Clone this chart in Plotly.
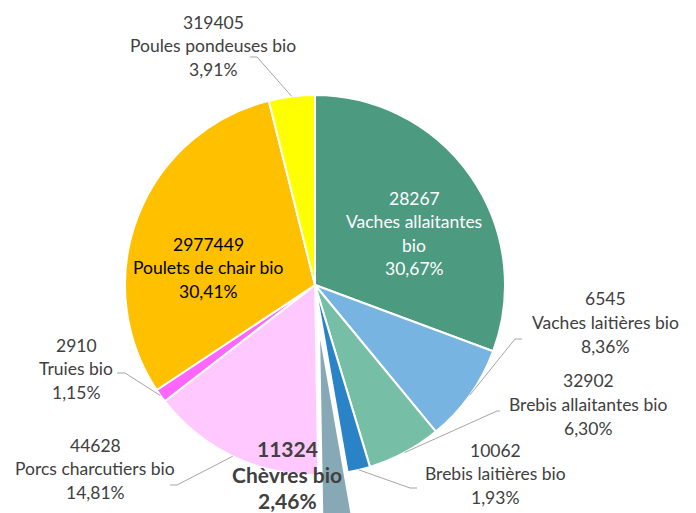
import math
import plotly.graph_objects as go

# ---------------- data ----------------
categories = ["Vaches allaitantes bio", "Vaches laitières bio", "Brebis allaitantes bio",
              "Brebis laitières bio", "Chèvres bio", "Porcs charcutiers bio",
              "Truies bio", "Poulets de chair bio", "Poules pondeuses bio"]
heads = [28267, 6545, 32902, 10062, 11324, 44628, 2910, 2977449, 319405]
shares = [30.67, 8.36, 6.30, 1.93, 2.46, 14.81, 1.15, 30.41, 3.91]

# ---------------- style ----------------
colors = ["#4C9A80", "#77B4E2", "#76BEA6", "#2A83C7", "#87A9B5",
          "#FFC9FF", "#FF66FF", "#FFC000", "#FFFF00"]
pulls = [0, 0, 0, 0, 0.22, 0, 0, 0, 0]

W, H = 696, 513
OFF = 8                             # page body margin
CX, CY, R = 315, 285, 190          # pie centre / radius in page pixels
box = 2 * R * (1 + max(pulls))

def px(x):
    return (x - OFF) / W

def py(y):
    return 1 - (y - OFF) / H

FS = 17.5
# label layout: centre x, first-line y, line spacing, font size, colour, bold, wrap
label_layout = [
    (414, 198, 23.5, FS, "#FFFFFF", False, ["Vaches allaitantes", "bio"]),
    (605, 298, 24, FS, "#404040", False, None),
    (588, 380, 24, FS, "#404040", False, None),
    (495, 450, 23.5, FS, "#404040", False, None),
    (287, 448, 26, 21, "#404040", True, None),
    (95, 445, 23.5, FS, "#404040", False, None),
    (76, 345, 23.5, FS, "#404040", False, None),
    (208, 244, 23.5, FS, "#000000", False, None),
    (213, 22, 23.5, FS, "#404040", False, None),
]
# leader lines: (text end point, elbow point) or None
leaders = [None, ((522, 339), (515, 339)), ((500, 411), (497, 411)),
           ((417, 488), (410, 488)), None, ((170, 485), (177, 485)),
           ((117, 373), (125, 373)), None, ((250, 57), (257, 57))]

fig = go.Figure(go.Pie(
    labels=categories, values=shares, sort=False, direction="clockwise",
    rotation=0, pull=pulls, textinfo="none", hoverinfo="label+percent",
    marker=dict(colors=colors, line=dict(color="#FFFFFF", width=2)),
    domain=dict(x=[px(CX - box / 2), px(CX + box / 2)],
                y=[py(CY + box / 2), py(CY - box / 2)]),
    showlegend=False,
))

annotations = []
shapes = []
total = sum(shares)
cum = 0.0
for i, cat in enumerate(categories):
    mid = (cum + shares[i] / 2) / total * 2 * math.pi
    cum += shares[i]
    cx, y0, dy, fs, col, bold, wrap = label_layout[i]
    name_lines = wrap if wrap else [cat]
    pct = f"{shares[i]:.2f}".replace(".", ",") + "%"
    lines = [str(heads[i])] + name_lines + [pct]
    for k, t in enumerate(lines):
        txt = f"<b>{t}</b>" if bold else t
        annotations.append(dict(
            x=px(cx), y=py(y0 + k * dy), xref="paper", yref="paper",
            text=txt, showarrow=False, xanchor="center", yanchor="middle",
            font=dict(family="Lato", size=fs, color=col)))
    if leaders[i]:
        (ax, ay), (ex, ey) = leaders[i]
        sx = CX + R * math.sin(mid)
        sy = CY - R * math.cos(mid)
        path = f"M {px(ax)} {py(ay)} L {px(ex)} {py(ey)} L {px(sx)} {py(sy)}"
        shapes.append(dict(type="path", xref="paper", yref="paper", path=path,
                           line=dict(color="#A6A6A6", width=1)))

fig.update_layout(
    width=W, height=H, margin=dict(l=0, r=0, t=0, b=0),
    paper_bgcolor="#FFFFFF", plot_bgcolor="#FFFFFF",
    annotations=annotations, shapes=shapes,
)
fig.write_html("out.html")
